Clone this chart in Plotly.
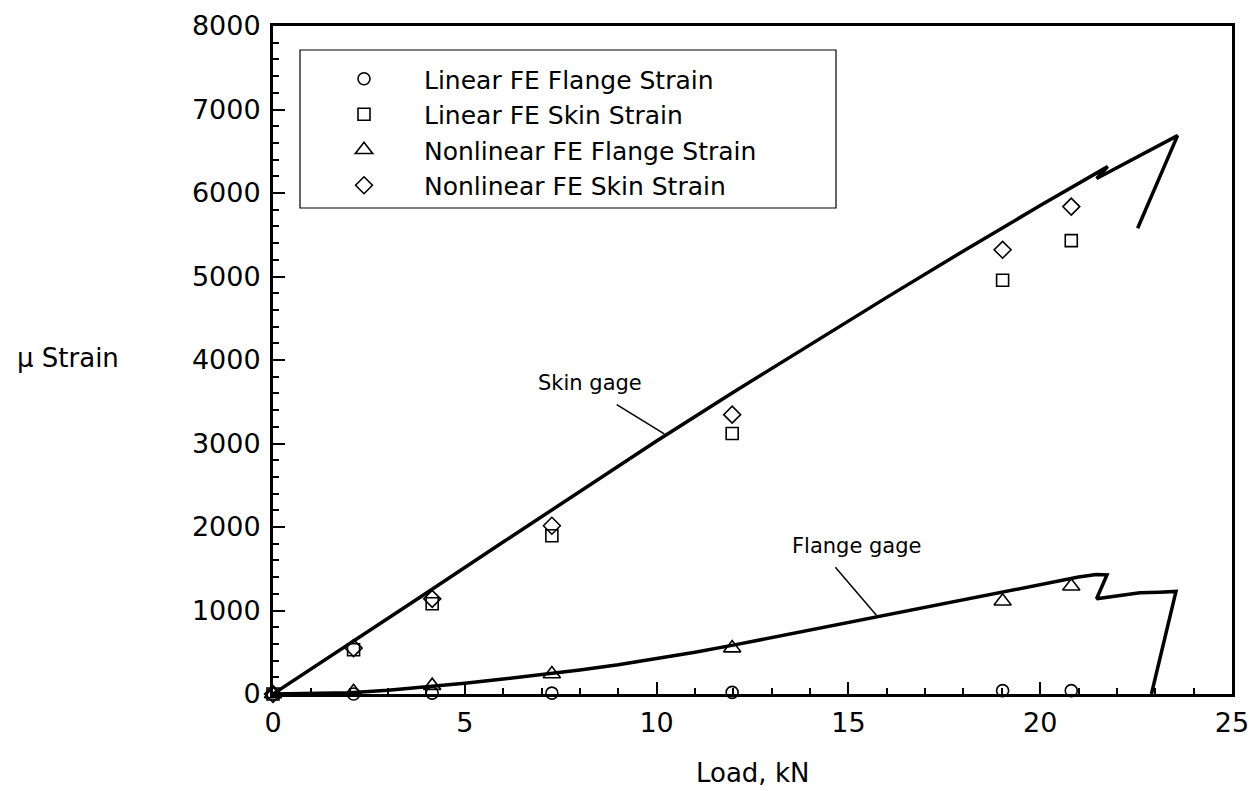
import plotly.graph_objects as go

# ---- data ----
load_points = [0, 2.1, 4.15, 7.27, 11.97, 19.02, 20.81]
lin_flange = [0, 0, 10, 10, 20, 40, 40]
lin_skin = [0, 530, 1080, 1895, 3120, 4955, 5430]
nonlin_flange = [0, 27, 100, 240, 550, 1110, 1290]
nonlin_skin = [0, 550, 1140, 2015, 3345, 5320, 5837]

skin_load = [0, 2, 4, 6, 8, 10, 12, 14, 16, 18, 20, 21.76, 21.47, 23.58, 22.54]
skin_strain = [0, 600, 1210, 1820, 2430, 3030, 3614, 4186, 4750, 5306, 5850, 6316, 6174, 6687, 5578]

flange_load = [0, 1, 2, 3, 4, 5, 6, 7, 8, 9, 10, 11, 12, 13, 14, 15, 16, 17, 18, 19, 20, 21,
               21.46, 21.74, 21.47, 22.6, 23.1, 23.54, 22.9]
flange_strain = [0, 3, 15, 45, 85, 130, 180, 232, 288, 350, 420, 500, 585, 675, 767, 860, 952,
                 1043, 1133, 1223, 1313, 1400, 1430, 1427, 1140, 1212, 1219, 1228, 0]

x_ticks = [0, 5, 10, 15, 20, 25]
y_ticks = [0, 1000, 2000, 3000, 4000, 5000, 6000, 7000, 8000]

FONT = "DejaVu Sans"

# page geometry (page is offset by the 8px body margin)
L, T, W, H = 265, 18, 959, 668

fig = go.Figure()

fig.add_trace(go.Scatter(x=skin_load, y=skin_strain, mode="lines",
                         line=dict(color="black", width=3.5), showlegend=False))
fig.add_trace(go.Scatter(x=flange_load, y=flange_strain, mode="lines",
                         line=dict(color="black", width=3.5), showlegend=False))

mk = dict(color="black", line=dict(color="black", width=1.6))
fig.add_trace(go.Scatter(x=load_points, y=lin_flange, mode="markers", name="Linear FE Flange Strain",
                         marker=dict(symbol="circle-open", size=12, **mk), cliponaxis=False))
fig.add_trace(go.Scatter(x=load_points, y=lin_skin, mode="markers", name="Linear FE Skin Strain",
                         marker=dict(symbol="square-open", size=12, **mk), cliponaxis=False))
fig.add_trace(go.Scatter(x=load_points, y=nonlin_flange, mode="markers", name="Nonlinear FE Flange Strain",
                         marker=dict(symbol="triangle-up-open", size=15, **mk), cliponaxis=False))
fig.add_trace(go.Scatter(x=load_points, y=nonlin_skin, mode="markers", name="Nonlinear FE Skin Strain",
                         marker=dict(symbol="diamond-open", size=13, **mk), cliponaxis=False))

axis_common = dict(showgrid=False, zeroline=False, showline=True, linecolor="black", linewidth=3,
                   mirror=True, ticks="inside", tickcolor="black", tickwidth=2, ticklen=12,
                   ticklabeloverflow="allow", automargin=False,
                   tickfont=dict(family=FONT, size=27, color="black"))

fig.update_xaxes(range=[0, 25], tickvals=x_ticks, ticktext=[str(v) for v in x_ticks],
                 minor=dict(ticks="inside", dtick=1, ticklen=6, tickwidth=2, tickcolor="black"),
                 ticklabelstandoff=3, **axis_common)
fig.update_yaxes(range=[0, 8000], tickvals=y_ticks, ticktext=[str(v) for v in y_ticks],
                 minor=dict(ticks="inside", dtick=200, ticklen=6, tickwidth=2, tickcolor="black"),
                 ticklabelstandoff=4, **axis_common)

TOP_PAGE = T + 8
BOT_PAGE = TOP_PAGE + H


def px(xp):
    return (xp - 273) / W


def py(yp):
    return (BOT_PAGE - yp) / H


fig.update_layout(
    width=1260, height=791,
    margin=dict(l=L, r=1260 - L - W, t=T, b=791 - T - H, autoexpand=False),
    plot_bgcolor="white", paper_bgcolor="white",
    font=dict(family=FONT, color="black"),
    legend=dict(x=px(304), y=py(56), xanchor="left", yanchor="top", bgcolor="rgba(0,0,0,0)",
                borderwidth=0, itemwidth=110, tracegroupgap=0,
                font=dict(family=FONT, size=25, color="black")),
    shapes=[
        dict(type="rect", xref="paper", yref="paper", x0=px(300), x1=px(836), y0=py(208), y1=py(50),
             line=dict(color="black", width=1.2)),
        dict(type="line", xref="x", yref="y", x0=8.96, y0=3465, x1=10.2, y1=3114,
             line=dict(color="black", width=1.5)),
        dict(type="line", xref="x", yref="y", x0=14.66, y0=1517, x1=15.73, y1=942,
             line=dict(color="black", width=1.5)),
    ],
    annotations=[
        dict(text="Skin gage", x=8.26, y=3722, xref="x", yref="y", showarrow=False,
             font=dict(family=FONT, size=21, color="black")),
        dict(text="Flange gage", x=15.21, y=1776, xref="x", yref="y", showarrow=False,
             font=dict(family=FONT, size=21, color="black")),
        dict(text="μ Strain", x=px(68), y=py(358), xref="paper", yref="paper", showarrow=False,
             xanchor="center", yanchor="middle", font=dict(family=FONT, size=26, color="black")),
        dict(text="Load, kN", x=px(752), y=py(773), xref="paper", yref="paper", showarrow=False,
             xanchor="center", yanchor="middle", font=dict(family=FONT, size=26, color="black")),
    ],
)

fig.write_html("out.html")
